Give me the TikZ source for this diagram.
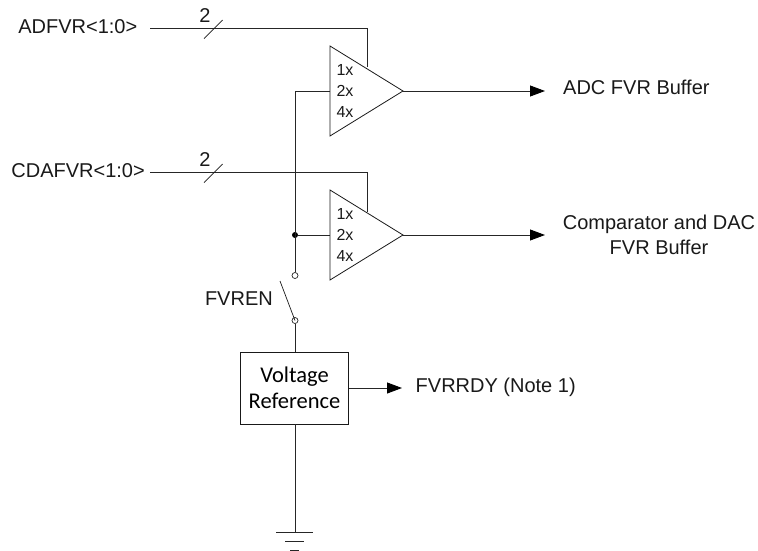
\documentclass[tikz,border=0pt]{standalone}
\usepackage{fontspec}
\setmainfont{Liberation Sans}
\newfontfamily\calib{Carlito}
\usetikzlibrary{arrows.meta}
\tikzset{
  wire/.style={draw=black!85,line width=0.9pt},
  sig/.style={wire,-{Triangle[length=15pt,width=11pt,color=black]}},
  lbl/.style={inner sep=0pt,font=\fontsize{20}{25}\selectfont,text=black!90},
  gain/.style={inner sep=0pt,font=\fontsize{16}{16}\selectfont,text=black!90},
  term/.style={circle,draw=black!85,line width=0.7pt,fill=white,minimum size=6pt,inner sep=0pt},
  dot/.style={circle,fill=black,minimum size=6pt,inner sep=0pt},
  amp/.style={draw=black!90,line width=0.8pt,line join=miter}
}
\begin{document}
\begin{tikzpicture}[x=1pt,y=-1pt]
\useasboundingbox (0,0) rectangle (758,551);
% labels
\node[lbl,anchor=east] (adf) at (137.5,27) {ADFVR<1:0>};
\node[lbl,anchor=east] (cda) at (145,171) {CDAFVR<1:0>};
\node[lbl] (n1) at (205,16) {2};
\node[lbl] (n2) at (205,160) {2};
\node[lbl,anchor=west] (out1) at (563,87) {ADC FVR Buffer};
\node[lbl,align=center,anchor=center] (out2) at (659,234.5) {Comparator and DAC\\FVR Buffer};
\node[lbl,anchor=west] (rdy) at (415.5,387) {FVRRDY (Note 1)};
\node[lbl,anchor=east] (en) at (273,299) {FVREN};
% coordinates
\coordinate (b1s) at (150,28);
\coordinate (b1c) at (367,28);
\coordinate (b1e) at (367,67.5);
\coordinate (b2s) at (150,172);
\coordinate (b2c) at (367,172);
\coordinate (b2e) at (367,211.5);
\coordinate (a1) at (403,91);
\coordinate (a2) at (403,235);
\coordinate (i1) at (330,91);
\coordinate (i2) at (330,235);
\coordinate (c1) at (295,91);
\coordinate (t1) at (545,91);
\coordinate (t2) at (545,235);
\coordinate (t3) at (402,388);
\coordinate (armend) at (280,281);
\coordinate (gnd) at (295,532);
% bus wires
\draw[wire] (b1s) -- (b1c) -- (b1e);
\draw[wire] (b2s) -- (b2c) -- (b2e);
\draw[black!90,line width=0.7pt] (204,38.7) -- (222.7,20);
\draw[black!90,line width=0.7pt] (204,182.7) -- (222.7,164);
% triangles
\draw[amp] (330,46) -- (403,91) -- (330,136) -- cycle;
\draw[amp] (330,190) -- (403,235) -- (330,280) -- cycle;
\node[gain] (g1a) at (345,70) {1x};
\node[gain] (g1b) at (345,91) {2x};
\node[gain] (g1c) at (345,111.5) {4x};
\node[gain] (g2a) at (345,214) {1x};
\node[gain] (g2b) at (345,235) {2x};
\node[gain] (g2c) at (345,255.5) {4x};
% switch and box
\node[term] (s1) at (295,275.5) {};
\node[term] (s2) at (295,320.5) {};
\node[dot] (j) at (295,235) {};
\node[draw=black!90,line width=0.9pt,minimum width=108pt,minimum height=72pt,inner sep=0pt,align=center,font=\calib\fontsize{22.5}{26}\selectfont] (vr) at (294.5,388) {Voltage\\Reference};
% connectors
\draw[wire] (i1) -- (c1) -- (s1.north);
\draw[wire] (j) -- (i2);
\draw[black!90,line width=0.7pt] (armend) -- (s2.center);
\draw[wire] (s2.south) -- (vr.north -| s2);
\draw[wire] (vr.south -| gnd) -- (gnd);
\draw[sig] (a1) -- (t1);
\draw[sig] (a2) -- (t2);
\draw[sig] (vr.east |- t3) -- (t3);
% ground
\draw[wire] (276,532) -- (313,532);
\draw[wire] (285,541) -- (304,541);
\draw[wire] (290,550) -- (299,550);
\end{tikzpicture}
\end{document}
